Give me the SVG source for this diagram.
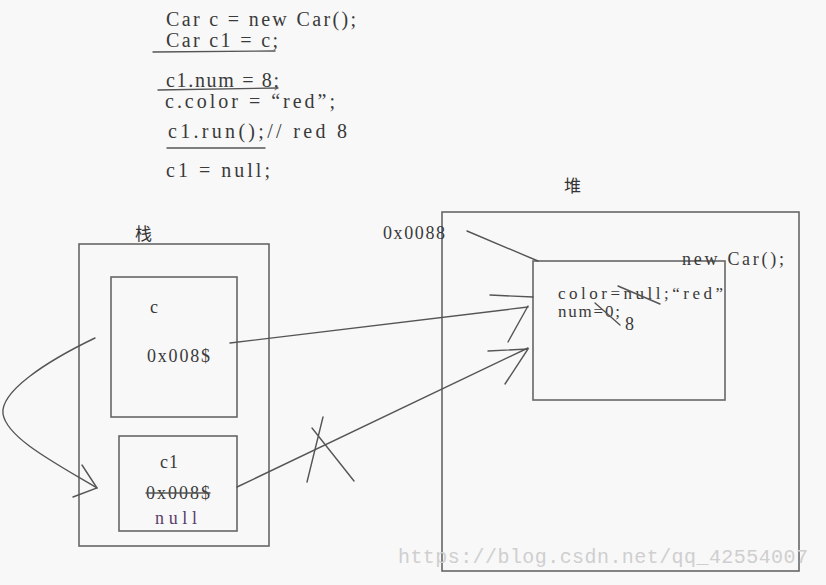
<svg xmlns="http://www.w3.org/2000/svg" width="826" height="585" viewBox="0 0 826 585">
<style>
.bg{fill:#f8f8f8}
.box{fill:none;stroke:#666;stroke-width:1.6}
.ln{fill:none;stroke:#555;stroke-width:1.4;stroke-linecap:round}
.code{font-family:"Liberation Serif","DejaVu Serif",serif;font-size:20px;fill:#3a3a3a}
.sm{font-family:"Liberation Serif","DejaVu Serif",serif;font-size:18px;fill:#3a3a3a}
.obj{font-family:"Liberation Serif","DejaVu Serif",serif;font-size:17px;fill:#3a3a3a}
.cjk{font-family:"Noto Sans CJK SC","Noto Sans CJK JP",sans-serif;font-size:17px;fill:#333}
.wm{font-family:"Liberation Mono","DejaVu Sans Mono",monospace;font-size:20px;fill:#cfcfcf}
</style>
<rect class="bg" x="0" y="0" width="826" height="585"/>
<g id="code">
<text class="code" x="166" y="26" textLength="190" lengthAdjust="spacing">Car c = new Car();</text>
<text class="code" x="166" y="47" textLength="112" lengthAdjust="spacing">Car c1 = c;</text>
<text class="code" x="166" y="87" textLength="113" lengthAdjust="spacing">c1.num = 8;</text>
<text class="code" x="165" y="108" textLength="170" lengthAdjust="spacing">c.color = “red”;</text>
<text class="code" x="168" y="138" textLength="179" lengthAdjust="spacing">c1.run();// red 8</text>
<text class="code" x="166" y="177" textLength="104" lengthAdjust="spacing">c1 = null;</text>
<path class="ln" d="M153,52 L275,51 M158,90 L278,88 M167,148 L265,148"/>
</g>
<g id="stack">
<text class="cjk" x="135" y="240">栈</text>
<rect class="box" x="79" y="244" width="190" height="302"/>
</g>
<g id="var-c">
<rect class="box" x="111" y="277" width="126" height="140"/>
<text class="sm" x="150" y="313">c</text>
<text class="sm" x="147" y="362" textLength="63" lengthAdjust="spacing">0x008$</text>
</g>
<g id="var-c1">
<rect class="box" x="119" y="436" width="118" height="95"/>
<text class="sm" x="160" y="468" textLength="18" lengthAdjust="spacing">c1</text>
<text class="sm" x="146" y="499" textLength="64" lengthAdjust="spacing">0x008$</text>
<path class="ln" d="M146,493 L210,493"/>
<text class="sm" x="155" y="524" textLength="42" lengthAdjust="spacing" style="fill:#5a3d68">null</text>
</g>
<g id="heap">
<text class="cjk" x="564" y="192">堆</text>
<rect class="box" x="442" y="212" width="357" height="359"/>
<text class="sm" x="383" y="239" textLength="62" lengthAdjust="spacing">0x0088</text>
</g>
<g id="car-object">
<rect class="box" x="533" y="261" width="192" height="139"/>
<text class="sm" x="682" y="265" textLength="102" lengthAdjust="spacing">new Car();</text>
<text class="obj" x="558" y="299" textLength="165" lengthAdjust="spacing">color=null;“red”</text>
<text class="obj" x="558" y="317" textLength="62" lengthAdjust="spacing">num=0;</text>
<text class="sm" x="625" y="330">8</text>
<path class="ln" d="M618,286 L660,304 M595,303 L620,325"/>
</g>
<g id="connectors">
<path class="ln" d="M95,338 C45,362 0,392 3,414 C7,438 55,463 97,488"/>
<path class="ln" d="M82,465 L97,488 L73,497"/>
<path class="ln" d="M230,343 L528,307"/>
<path class="ln" d="M490,295 L533,297 M528,306 L508,342"/>
<path class="ln" d="M237,487 L528,348"/>
<path class="ln" d="M488,351 L528,349 L505,384"/>
<path class="ln" d="M323,417 L307,482 M312,428 L354,481"/>
<path class="ln" d="M467,231 L538,261"/>
</g>
<text class="wm" x="398" y="563" textLength="410" lengthAdjust="spacing">https://blog.csdn.net/qq_42554007</text>
</svg>
